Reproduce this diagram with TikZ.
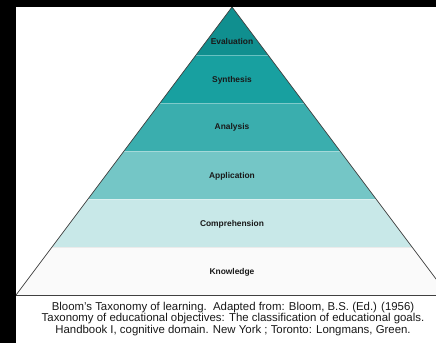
\documentclass[tikz,border=0pt]{standalone}
\usepackage{fontspec}
\setmainfont{Liberation Sans}
\begin{document}
\begin{tikzpicture}[x=1pt,y=-1pt,
  lvl/.style={font=\fontsize{8.4}{9}\selectfont\bfseries, text=black!90, inner sep=0pt},
  sep/.style={draw=white, draw opacity=0.35, line width=0.8pt},
  edge/.style={draw=black!75, line width=0.7pt}]
\definecolor{cEval}{RGB}{16,143,143}
\definecolor{cSyn}{RGB}{24,160,160}
\definecolor{cAna}{RGB}{58,174,174}
\definecolor{cApp}{RGB}{116,198,198}
\definecolor{cCom}{RGB}{200,232,232}
\definecolor{cKno}{RGB}{250,250,250}
\useasboundingbox (0,0) rectangle (436,343);
\fill[black] (0,0) rectangle (436,343);
\fill[white] (16,7) rectangle (436,343);
\begin{scope}
\clip (16,7) rectangle (436,343);
\coordinate (A) at (232,7);
\coordinate (L) at (16,295);
\coordinate (R) at (448,295);
\begin{scope}
\clip (A) -- (L) -- (R) -- cycle;
\fill[cEval] (0,7) rectangle (460,55);
\fill[cSyn] (0,55) rectangle (460,103);
\fill[cAna] (0,103) rectangle (460,151);
\fill[cApp] (0,151) rectangle (460,199);
\fill[cCom] (0,199) rectangle (460,247);
\fill[cKno] (0,247) rectangle (460,295);
\draw[sep] (0,55) -- (460,55);
\draw[sep] (0,103) -- (460,103);
\draw[sep] (0,151) -- (460,151);
\draw[sep] (0,199) -- (460,199);
\draw[sep, draw=black!8, draw opacity=1] (0,247) -- (460,247);
\end{scope}
\draw[edge] (L) -- (A) -- (R);
\coordinate (B0) at (16,295);
\coordinate (B1) at (436,295);
\draw[edge] (B0) -- (B1);
\end{scope}
\node[lvl] (eval) at (232,41) {Evaluation};
\node[lvl] (syn) at (232,80) {Synthesis};
\node[lvl] (ana) at (232,127) {Analysis};
\node[lvl] (app) at (232,176) {Application};
\node[lvl] (com) at (232,224) {Comprehension};
\node[lvl] (kno) at (232,272) {Knowledge};
\node[align=center, font=\fontsize{11.4}{11.2}\selectfont, text=black!90, inner sep=0pt] (cap) at (233,319)
 {Bloom's Taxonomy of learning.\ \ Adapted from: Bloom, B.S. (Ed.) (1956)\\
  Taxonomy of educational objectives: The classification of educational goals.\\
  Handbook I, cognitive domain. New York ; Toronto: Longmans, Green.};
\end{tikzpicture}
\end{document}
